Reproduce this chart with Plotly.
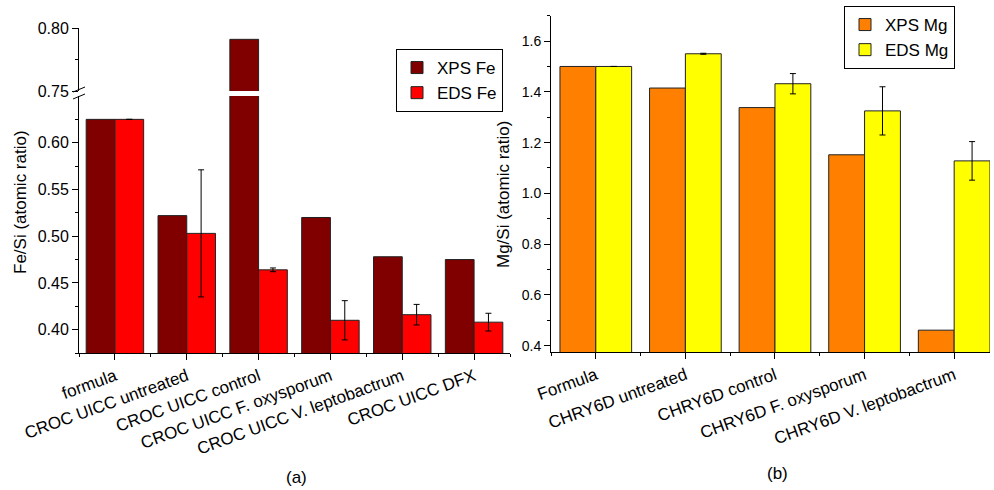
import plotly.graph_objects as go

W, H = 994, 490

# ---------------- data ----------------
cats_fe = ["formula", "CROC UICC untreated", "CROC UICC control",
           "CROC UICC F. oxysporum", "CROC UICC V. leptobactrum", "CROC UICC DFX"]
xps_fe = [0.625, 0.522, 0.791, 0.520, 0.478, 0.475]
eds_fe = [0.625, 0.503, 0.464, 0.410, 0.416, 0.408]
eds_fe_err = [0.0, 0.068, 0.002, 0.021, 0.011, 0.0095]

cats_mg = ["Formula", "CHRY6D untreated", "CHRY6D control",
           "CHRY6D F. oxysporum", "CHRY6D V. leptobactrum"]
xps_mg = [1.50, 1.415, 1.338, 1.152, 0.461]
eds_mg = [1.50, 1.550, 1.432, 1.325, 1.128]
eds_mg_err = [0.0, 0.002, 0.040, 0.095, 0.076]

fe_low_ticks = [0.40, 0.45, 0.50, 0.55, 0.60]
fe_low_minor = [0.375, 0.425, 0.475, 0.525, 0.575, 0.625]
fe_high_ticks = [0.75, 0.80]
fe_high_minor = [0.775]

FONT = "Liberation Sans, Arial, sans-serif"
C_XPS_FE, C_EDS_FE = "#800000", "#FF0000"
C_XPS_MG, C_EDS_MG = "#FF8000", "#FFFF00"
OUTLINE = dict(color="#222222", width=1)


def px(x):
    return x / W


def py(y):
    return 1 - y / H


xf = list(range(len(cats_fe)))
xm = list(range(len(cats_mg)))
err_style = dict(type="data", color="black", thickness=1, width=3, visible=True)

fig = go.Figure()

# left panel, lower segment
fig.add_trace(go.Bar(x=xf, y=xps_fe, name="XPS Fe", marker=dict(color=C_XPS_FE, line=OUTLINE),
                     width=0.4, offset=-0.4, xaxis="x", yaxis="y", legend="legend"))
fig.add_trace(go.Bar(x=xf, y=eds_fe, name="EDS Fe", marker=dict(color=C_EDS_FE, line=OUTLINE),
                     width=0.4, offset=0.0, xaxis="x", yaxis="y", legend="legend",
                     error_y=dict(array=eds_fe_err, **err_style)))
# left panel, upper segment (broken axis)
fig.add_trace(go.Bar(x=xf, y=xps_fe, marker=dict(color=C_XPS_FE, line=OUTLINE),
                     width=0.4, offset=-0.4, xaxis="x", yaxis="y3", showlegend=False))
fig.add_trace(go.Bar(x=xf, y=eds_fe, marker=dict(color=C_EDS_FE, line=OUTLINE),
                     width=0.4, offset=0.0, xaxis="x", yaxis="y3", showlegend=False))

# right panel
fig.add_trace(go.Bar(x=xm, y=xps_mg, name="XPS Mg", marker=dict(color=C_XPS_MG, line=OUTLINE),
                     width=0.4, offset=-0.4, xaxis="x2", yaxis="y2", legend="legend2"))
fig.add_trace(go.Bar(x=xm, y=eds_mg, name="EDS Mg", marker=dict(color=C_EDS_MG, line=OUTLINE),
                     width=0.4, offset=0.0, xaxis="x2", yaxis="y2", legend="legend2",
                     error_y=dict(array=eds_mg_err, **err_style)))

axis_common = dict(showline=True, linecolor="black", linewidth=1, ticks="outside",
                   ticklen=6, tickwidth=1, tickcolor="black", showgrid=False,
                   zeroline=False, color="black", automargin=False)

fig.update_layout(
    width=W, height=H, margin=dict(l=0, r=0, t=0, b=0, autoexpand=False),
    paper_bgcolor="white", plot_bgcolor="white",
    font=dict(family=FONT, color="black", size=16),
    barmode="overlay",
    xaxis=dict(domain=[px(79), px(510)], anchor="y", range=[-0.5, 5.5],
               tickmode="array", tickvals=xf, ticktext=cats_fe, tickangle=-20,
               tickfont=dict(size=17),
               minor=dict(tickmode="linear", tick0=-0.5, dtick=1, ticks="outside",
                          ticklen=3, tickcolor="black"),
               **axis_common),
    yaxis=dict(domain=[py(353), py(96)], anchor="x", range=[0.375, 0.65],
               tickmode="array", tickvals=fe_low_ticks, tickformat=".2f",
               tickfont=dict(size=16),
               minor=dict(tickmode="array", tickvals=fe_low_minor, ticks="outside",
                          ticklen=3, tickcolor="black"),
               **axis_common),
    yaxis3=dict(domain=[py(91), py(28)], anchor="x", range=[0.75, 0.80],
                tickmode="array", tickvals=fe_high_ticks, tickformat=".2f",
                tickfont=dict(size=16),
                minor=dict(tickmode="array", tickvals=fe_high_minor, ticks="outside",
                           ticklen=3, tickcolor="black"),
                **axis_common),
    xaxis2=dict(domain=[px(551), px(990)], anchor="y2", range=[-0.5, 4.4],
                tickmode="array", tickvals=xm, ticktext=cats_mg, tickangle=-20,
                tickfont=dict(size=17),
                minor=dict(tickmode="linear", tick0=-0.5, dtick=1, ticks="outside",
                           ticklen=3, tickcolor="black"),
                **axis_common),
    yaxis2=dict(domain=[py(352), py(15.7)], anchor="x2", range=[0.375, 1.70],
                tickmode="linear", tick0=0.4, dtick=0.2, tickformat=".1f",
                tickfont=dict(size=14),
                minor=dict(tickmode="linear", tick0=0.5, dtick=0.2, ticks="outside",
                           ticklen=3, tickcolor="black"),
                **axis_common),
    legend=dict(x=px(396), y=py(49), xanchor="left", yanchor="top",
                bordercolor="black", borderwidth=1, bgcolor="white",
                font=dict(size=17), tracegroupgap=0),
    legend2=dict(x=px(844), y=py(6), xanchor="left", yanchor="top",
                 bordercolor="black", borderwidth=1, bgcolor="white",
                 font=dict(size=17), tracegroupgap=0),
    annotations=[
        dict(text="Fe/Si (atomic ratio)", x=px(20), y=py(202), xref="paper", yref="paper",
             textangle=-90, showarrow=False, font=dict(size=17), xanchor="center", yanchor="middle"),
        dict(text="Mg/Si (atomic ratio)", x=px(503), y=py(195), xref="paper", yref="paper",
             textangle=-90, showarrow=False, font=dict(size=17), xanchor="center", yanchor="middle"),
        dict(text="(a)", x=px(296), y=py(477), xref="paper", yref="paper",
             showarrow=False, font=dict(size=17), xanchor="center", yanchor="middle"),
        dict(text="(b)", x=px(777), y=py(473), xref="paper", yref="paper",
             showarrow=False, font=dict(size=17), xanchor="center", yanchor="middle"),
    ],
    shapes=[
        dict(type="line", xref="paper", yref="paper", x0=px(73), y0=py(92), x1=px(85), y1=py(87),
             line=dict(color="black", width=1)),
        dict(type="line", xref="paper", yref="paper", x0=px(73), y0=py(99), x1=px(85), y1=py(94),
             line=dict(color="black", width=1)),
    ],
)

fig.write_html(
    "out.html",
    config={"displayModeBar": False},
    post_script="document.body.style.margin='0';document.body.style.overflow='hidden';",
)
